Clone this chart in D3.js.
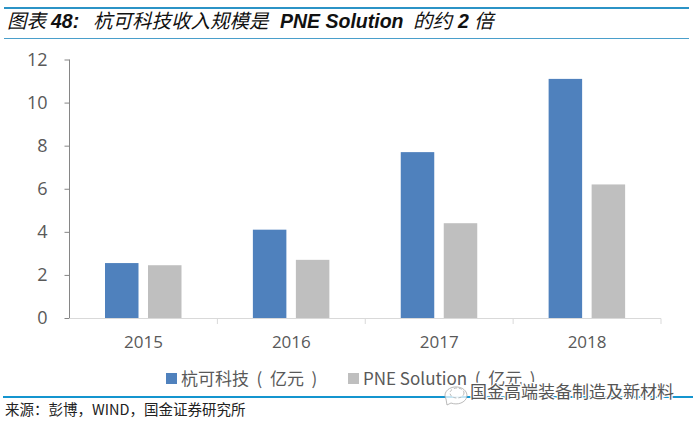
<!DOCTYPE html>
<html lang="en">
<head>
    <meta charset="UTF-8">
    <title>chart</title>
    <script src="https://d3js.org/d3.v7.min.js"></script>
    <style>
        * { padding: 0; margin: 0; }
        body { background: #fff; }
        svg { display: block; }
        text { font-family: "Noto Sans CJK SC", sans-serif; white-space: pre; }
        .latin { font-family: "Liberation Sans", sans-serif; font-weight: bold; }
        .tick text { font-family: "Open Sans", sans-serif; }
    </style>
</head>
<body>
    <div class="context"></div>
    <script>
        const years = ["2015", "2016", "2017", "2018"];
        const seriesNames = ["杭可科技  (  亿元  )", "PNE Solution  (  亿元  )"];
        const hangke = [2.55, 4.1, 7.7, 11.1];
        const pne = [2.45, 2.7, 4.4, 6.2];
        const yTicks = [0, 2, 4, 6, 8, 10, 12];
        const colors = ["#4f81bd", "#bfbfbf"];

        const svg = d3.select(".context").append("svg")
            .attr("width", 696).attr("height", 423);

        // header rules
        svg.append("rect").attr("x", 4).attr("y", 7).attr("width", 685).attr("height", 2).attr("fill", "#2b93c6");
        svg.append("rect").attr("x", 4).attr("y", 38).attr("width", 685).attr("height", 1).attr("fill", "#4a9fcb");
        svg.append("rect").attr("x", 3).attr("y", 396).attr("width", 690).attr("height", 2).attr("fill", "#1495cf");

        // title, pieces placed one by one because of mixed fonts
        const titleParts = [
            ["图表", 0, 7], ["48:", 1, 51], ["杭可科技收入规模是", 0, 93],
            ["PNE Solution", 1, 280], ["的约", 0, 413], ["2", 1, 458], ["倍", 0, 474]
        ];
        svg.append("g").selectAll("text").data(titleParts).enter().append("text")
            .attr("class", d => d[1] ? "latin" : null)
            .attr("x", d => d[2]).attr("y", 28)
            .attr("font-size", 19.5)
            .attr("font-style", "italic").attr("fill", "#111")
            .text(d => d[0]);

        const x = d3.scaleBand().domain(years).range([69.5, 661]);
        const y = d3.scaleLinear().domain([0, 12]).range([318, 59.5]);
        const barW = 33.5;
        const off = [35.5, 78.5];

        const yAxis = svg.append("g").attr("transform", "translate(69.5,0)")
            .call(d3.axisLeft(y).tickValues(yTicks).tickSize(5).tickPadding(17));
        yAxis.selectAll("text").attr("font-size", 18).attr("fill", "#595959");
        yAxis.selectAll("line").attr("stroke", "#868686");
        yAxis.select(".domain").attr("stroke", "#868686").attr("d", "M0,59.5V318");

        const xAxis = svg.append("g").attr("transform", "translate(0,318.5)")
            .call(d3.axisBottom(x).tickSize(0).tickPadding(17));
        xAxis.selectAll("text").attr("font-size", 17).attr("fill", "#595959");
        xAxis.select(".domain").attr("stroke", "#d9d9d9").attr("d", "M69.5,0H661");
        // category boundary ticks
        svg.append("g").selectAll("line").data(years).enter().append("line")
            .attr("x1", d => x(d) + x.bandwidth()).attr("x2", d => x(d) + x.bandwidth())
            .attr("y1", 318.5).attr("y2", 324).attr("stroke", "#d9d9d9");

        [hangke, pne].forEach((vals, s) => {
            svg.append("g").selectAll("rect").data(vals).enter().append("rect")
                .attr("x", (d, i) => x(years[i]) + off[s])
                .attr("y", d => y(d))
                .attr("width", barW)
                .attr("height", d => y(0) - y(d))
                .attr("fill", colors[s]);
        });

        // legend
        const legendX = [166, 348];
        seriesNames.forEach((n, i) => {
            svg.append("rect").attr("x", legendX[i]).attr("y", 373).attr("width", 11).attr("height", 11).attr("fill", colors[i]);
            svg.append("text").attr("x", legendX[i] + 15).attr("y", 385)
                .attr("font-size", 17).attr("fill", "#595959").text(n);
        });

        // wechat mark + watermark
        const mark = svg.append("g").attr("fill", "rgba(255,255,255,0.75)").attr("stroke", "#a8a8a8").attr("stroke-width", 0.8);
        mark.append("path").attr("d", "M447,405 L451,403 A11,8.5 0 1 0 446,399 Z");
        mark.append("ellipse").attr("cx", 457).attr("cy", 393).attr("rx", 7).attr("ry", 5).attr("stroke-dasharray", "3 2");
        svg.append("text").attr("x", 470).attr("y", 398)
            .attr("font-size", 17).attr("fill", "#555")
            .attr("stroke", "#fff").attr("stroke-width", 2.5).attr("paint-order", "stroke")
            .text("国金高端装备制造及新材料");

        // source
        svg.append("text").attr("x", 5).attr("y", 415)
            .attr("font-size", 14.5).attr("fill", "#222")
            .text("来源：彭博，WIND，国金证券研究所");
    </script>
</body>
</html>
